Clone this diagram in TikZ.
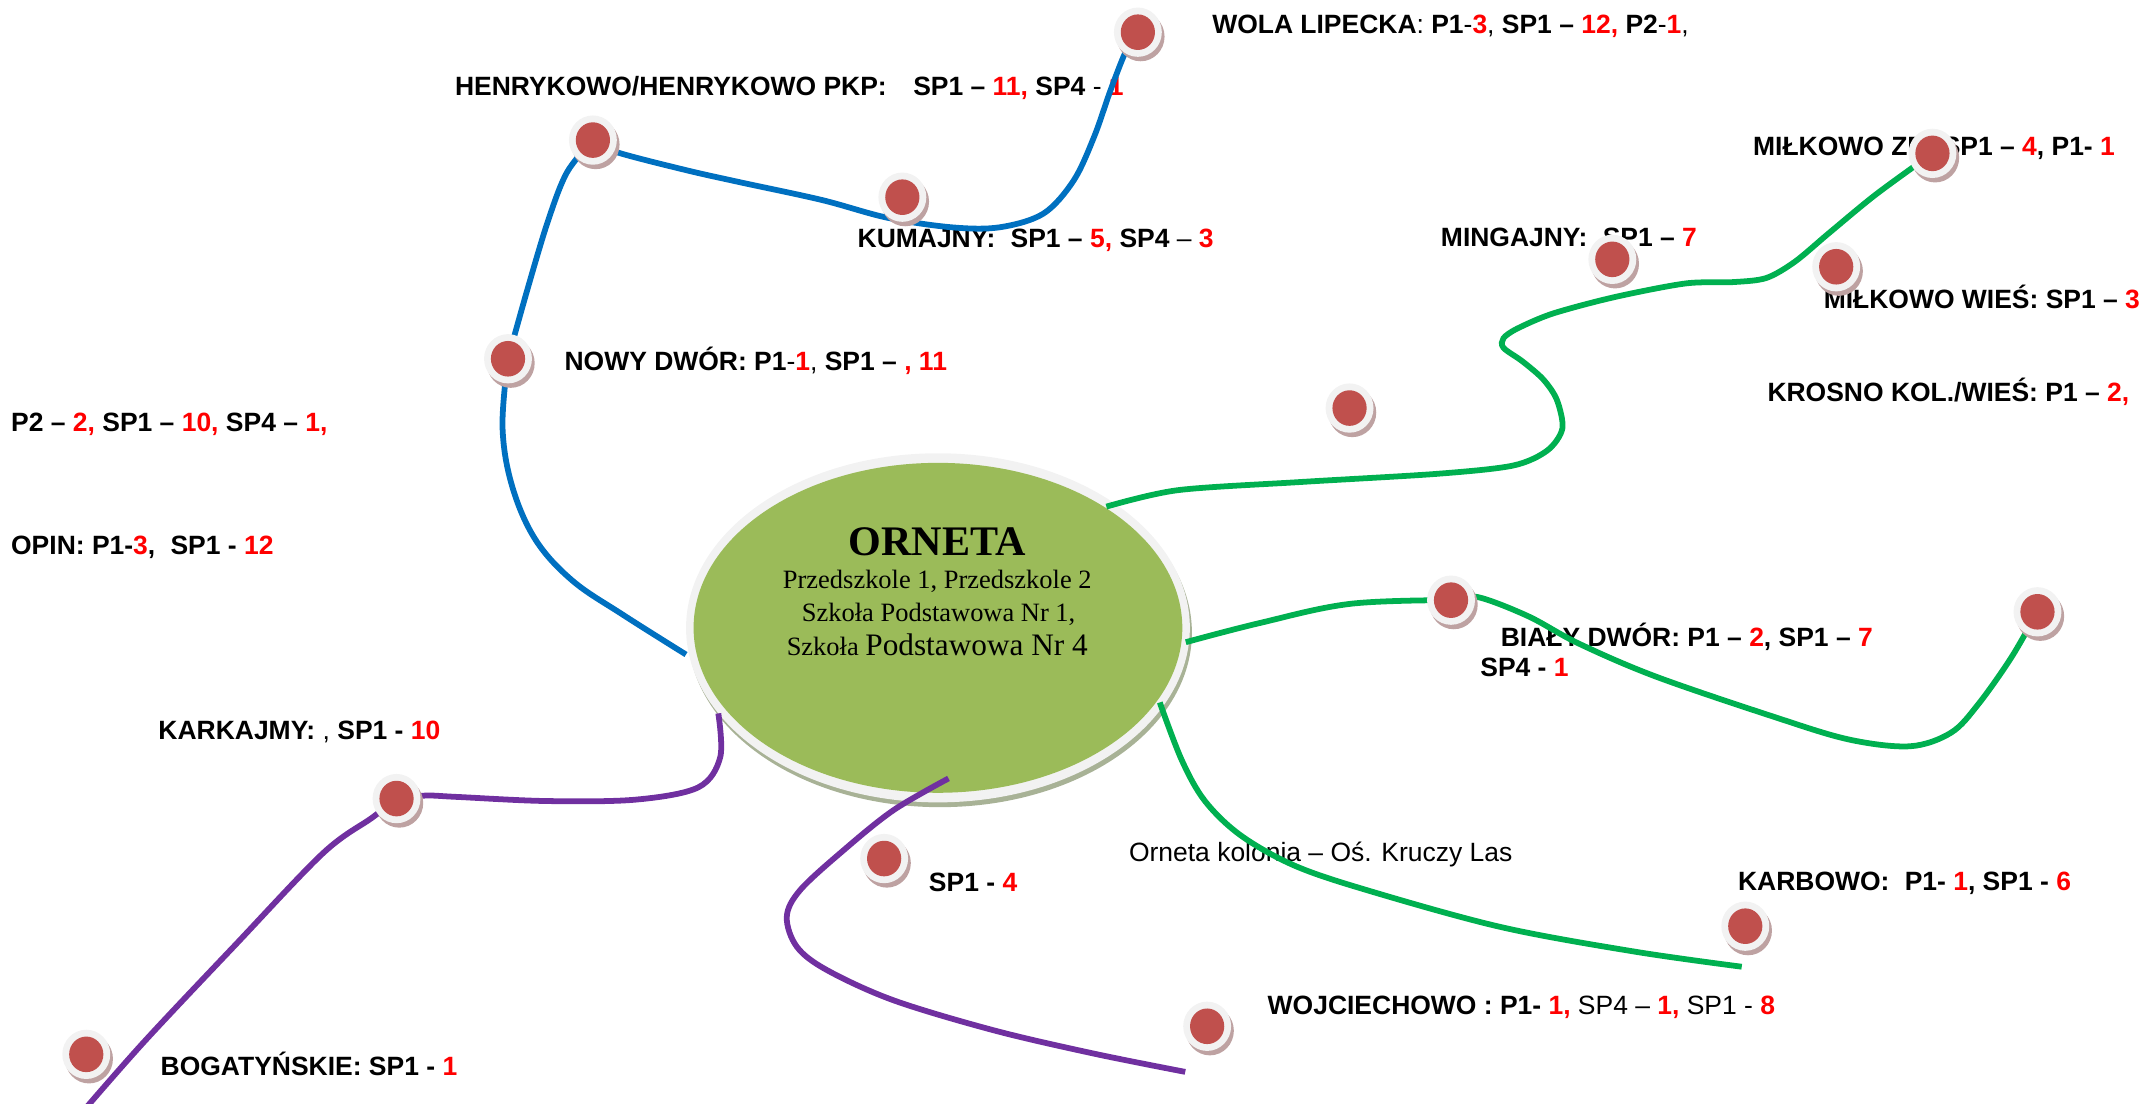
\documentclass[tikz,border=0pt]{standalone}
\usepackage{fontspec}
\setmainfont{Liberation Serif}
\newfontfamily\labfont{Liberation Sans}
\usetikzlibrary{shapes.geometric}
\definecolor{blueln}{HTML}{0070C0}
\definecolor{greenln}{HTML}{00B050}
\definecolor{purpleln}{HTML}{7030A0}
\definecolor{ellgreen}{HTML}{9BBB59}
\definecolor{rimgrey}{HTML}{F2F2F2}
\definecolor{ellshadow}{RGB}{168,178,150}
\definecolor{dotred}{HTML}{C0504D}
\definecolor{dotshadow}{RGB}{190,162,162}
\definecolor{redtxt}{HTML}{FF0000}
\newcommand\redn[1]{\textcolor{redtxt}{#1}}
\pgfdeclarelayer{back}
\pgfdeclarelayer{mid}
\pgfsetlayers{back,mid,main}
\begin{document}
\begin{tikzpicture}[x=0.02cm,y=-0.02cm,
  dotnode/.style={ellipse, inner sep=0, minimum width=0.70cm, minimum height=0.72cm, fill=rimgrey,
    preaction={fill=dotshadow, transform canvas={xshift=0.04cm,yshift=-0.065cm}},
    path picture={\fill[dotred] (path picture bounding box.center) ellipse (0.25cm and 0.26cm);}},
  elln/.style={ellipse, inner sep=0, minimum width=7.36cm, minimum height=5.10cm, fill=rimgrey,
    preaction={fill=ellshadow, transform canvas={xshift=0.03cm,yshift=-0.07cm}},
    path picture={\fill[ellgreen] (path picture bounding box.center) ellipse (3.57cm and 2.41cm);}},
  lbl/.style={anchor=base west, inner sep=0, font=\labfont\fontsize{11}{13}\selectfont\bfseries},
  etxt/.style={anchor=base, inner sep=0},
  lnb/.style={line width=2.4pt, draw=blueln},
  lng/.style={line width=2.4pt, draw=greenln},
  lnp/.style={line width=2.4pt, draw=purpleln}]
\useasboundingbox (0,0) rectangle (1568,806);

\begin{pgfonlayer}{back}
\node[elln] (orneta) at (685,458.5) {};
\node[etxt, font=\bfseries\fontsize{17.5}{20}\selectfont] (t0) at (684.5,406) {ORNETA};
\node[etxt, font=\fontsize{11}{13}\selectfont] (t1) at (684.5,430) {Przedszkole 1, Przedszkole 2};
\node[etxt, font=\fontsize{11}{13}\selectfont] (t2) at (685.5,453.6) {Szkoła Podstawowa Nr 1,};
\node[etxt, font=\fontsize{11}{13}\selectfont] (t3) at (684.5,478.5) {Szkoła {\fontsize{13}{15}\selectfont Podstawowa Nr 4}};

\node[lbl] (Lhenr) at (332,69.4) {HENRYKOWO/HENRYKOWO PKP:\hspace{1em}SP1 – \redn{11,} SP4 {\mdseries -} \redn{1}};
\node[lbl] (Lwola) at (885,24.4) {WOLA LIPECKA{\mdseries :} P1{\mdseries -}\redn{3}{\mdseries ,} SP1 – \redn{12,} P2{\mdseries -}\redn{1}{\mdseries ,}};
\node[lbl] (Lkum) at (626,181) {KUMAJNY:\hspace{0.3em} SP1 – \redn{5,} SP4 {\mdseries –} \redn{3}};
\node[lbl] (Lnowy) at (412,270.8) {NOWY DWÓR: P1{\mdseries -}\redn{1}{\mdseries ,} SP1 – \redn{, 11}};
\node[lbl] (Lp2) at (7.8,315.3) {P2 – \redn{2,} SP1 – \redn{10,} SP4 – \redn{1,}};
\node[lbl] (Lopin) at (7.8,405) {OPIN: P1-\redn{3},\hspace{0.3em} SP1 - \redn{12}};
\node[lbl] (Lming) at (1052,180.2) {MINGAJNY:\hspace{0.3em} SP1 – \redn{7}};
\node[lbl] (Lmilzd) at (1280,113.2) {MIŁKOWO ZD: SP1 – \redn{4}, P1- \redn{1}};
\node[lbl] (Lmilw) at (1331.6,225) {MIŁKOWO WIEŚ: SP1 – \redn{3}};
\node[lbl] (Lkros) at (1290.5,293.4) {KROSNO KOL./WIEŚ: P1 – \redn{2,}};
\node[lbl] (Lbialy) at (1095.7,472.4) {BIAŁY DWÓR: P1 – \redn{2}, SP1 – \redn{7}};
\node[lbl] (Lbialy2) at (1080.8,494.3) {SP4 - \redn{1}};
\node[lbl, font=\labfont\fontsize{11}{13}\selectfont] (Lkol) at (824.2,628.9) {Orneta kolonia – Oś. Kruczy Las};
\node[lbl] (Lkarb) at (1269,650.6) {KARBOWO:\hspace{0.3em} P1- \redn{1}, SP1 - \redn{6}};
\node[lbl] (Lwoj) at (925.5,740.7) {WOJCIECHOWO : P1- \redn{1,} {\mdseries SP4 – }\redn{1,} {\mdseries SP1 - }\redn{8}};
\node[lbl] (Lsp14) at (678.1,651.3) {SP1 - \redn{4}};
\node[lbl] (Lkark) at (115.4,539.8) {KARKAJMY: {\mdseries ,} SP1 - \redn{10}};
\node[lbl] (Lbog) at (117,785.3) {BOGATYŃSKIE: SP1 - \redn{1}};
\end{pgfonlayer}

% dots
\node[dotnode] (wolaD) at (831,23.5) {};
\node[dotnode] (henrD) at (433,102.3) {};
\node[dotnode] (kumD) at (659,144) {};
\node[dotnode] (nowyD) at (371,262) {};
\node[dotnode] (milzdD) at (1411.3,112) {};
\node[dotnode] (mingD) at (1177.5,189.4) {};
\node[dotnode] (milwD) at (1341,194.8) {};
\node[dotnode] (unD) at (985.6,298) {};
\node[dotnode] (bialyD) at (1059.7,438.3) {};
\node[dotnode] (rightD) at (1488,446.8) {};
\node[dotnode] (karbD) at (1274.6,676.4) {};
\node[dotnode] (wojD) at (881.6,749.5) {};
\node[dotnode] (sp14D) at (645.7,627) {};
\node[dotnode] (karkD) at (289.6,583.2) {};
\node[dotnode] (bogD) at (63,770) {};

% connector ends on the ellipse and free ends
\coordinate (oB) at (501,478);
\coordinate (oGA) at (808,370);
\coordinate (oGB) at (866,469);
\coordinate (oGC) at (847,513);
\coordinate (oPD) at (524.6,521);
\coordinate (oPE) at (692.7,568.5);
\coordinate (gCend) at (1272,706);
\coordinate (pDend) at (62,810);
\coordinate (pEend) at (865.6,782.8);

\begin{pgfonlayer}{mid}
\draw[lnb] plot[smooth, tension=0.6] coordinates {(oB) (455,449) (418,424) (391,394) (374,355) (367,312) (nowyD)};
\draw[lnb] plot[smooth, tension=0.55] coordinates {(nowyD) (385,212) (400,162) (414,126) (henrD)};
\draw[lnb] plot[smooth, tension=0.55] coordinates {(henrD) (450,111) (500,124) (540,133) (600,146) (648,159) (695,166) (730,166) (762,156) (784,132) (799,100) (811,66) (822,38) (wolaD)};
\draw[lng] plot[smooth, tension=0.5] coordinates {(oGA) (860,358) (950,352) (1050,346) (1105,340) (1130,329) (1141,313) (1137,292) (1127,277) (1112,264) (1098,254) (1098,247) (1108,240) (1134,229) (1179,217) (1231,207) (1266,206) (1290,203) (1311,191) (1336,170) (1370,142) (milzdD)};
\draw[lng] plot[smooth, tension=0.6] coordinates {(oGB) (920,455) (986,441) (bialyD)};
\draw[lng] plot[smooth, tension=0.55] coordinates {(bialyD) (1079,436) (1116,450) (1153,470) (1209,494) (1294,523) (1350,540) (1395,545) (1425,535) (1445,514) (1469,480) (rightD)};
\draw[lng] plot[smooth, tension=0.55] coordinates {(oGC) (863,555) (880,585) (906,610) (945,632) (998,650) (1096,677) (1194,695) (gCend)};
\draw[lnp] plot[smooth, tension=0.55] coordinates {(oPD) (526,553) (510,575) (464,584) (399,585) (334,582) (311,581) (karkD)};
\draw[lnp] plot[smooth, tension=0.55] coordinates {(karkD) (272,597) (236,623) (171,691) (106,760) (pDend)};
\draw[lnp] plot[smooth, tension=0.55] coordinates {(oPE) (652.5,591.7) (616,621) (584.4,650) (574.6,669.6) (582,691.5) (604,708.5) (652.5,730.5) (725.6,752.4) (798.6,769.4) (pEend)};
\end{pgfonlayer}
\end{tikzpicture}
\end{document}
